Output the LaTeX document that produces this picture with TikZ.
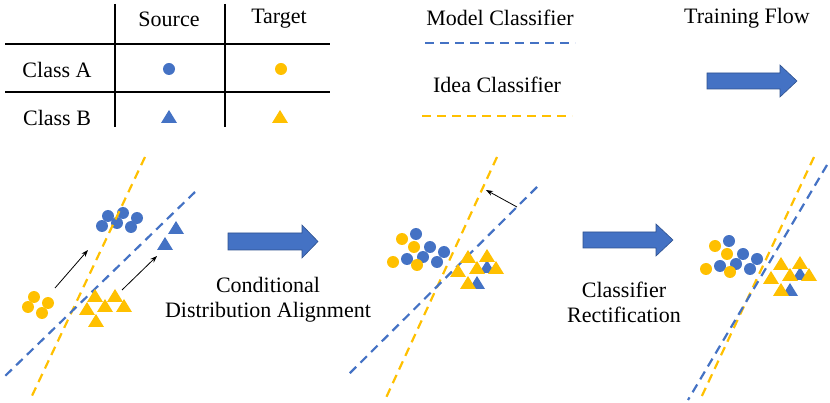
\documentclass[tikz,border=0pt]{standalone}
\usepackage{fontspec}
\setmainfont{Liberation Serif}
\usetikzlibrary{arrows.meta}
\definecolor{cblue}{HTML}{4472C4}
\definecolor{cyel}{HTML}{FFC000}
\definecolor{cbord}{HTML}{2F528F}
\tikzset{
  lbl/.style={font=\fontsize{22}{25}\selectfont, inner sep=0pt, align=center},
  grid/.style={line width=1.8pt, black},
  bdash/.style={cblue, line width=2.2pt, dash pattern=on 9pt off 6pt},
  ydash/.style={cyel, line width=2.2pt, dash pattern=on 9pt off 6pt},
  bigarrow/.style={fill=cblue, draw=cbord, line width=0.6pt},
  thinarrow/.style={black, line width=0.8pt, -{Stealth[length=7pt,width=5pt]}},
  tri/.pic={\fill (-8,6) -- (8,6) -- (0,-7) -- cycle;},
}
\newcommand{\bdot}[1]{\fill[cblue] #1 circle (6);}
\newcommand{\ydot}[1]{\fill[cyel] #1 circle (6);}
\newcommand{\btri}[1]{\path[cblue] #1 pic {tri};}
\newcommand{\ytri}[1]{\path[cyel] #1 pic {tri};}
\begin{document}
\begin{tikzpicture}[x=1pt,y=-1pt]
\useasboundingbox (0,0) rectangle (830,403);
% ---------- table ----------
\draw[grid] (115,4) -- (115,127);
\draw[grid] (225,4) -- (225,127);
\draw[grid] (5,44) -- (330,44);
\draw[grid] (5,92) -- (330,92);
\node[lbl] (src) at (169,19) {Source};
\node[lbl] (tgt) at (279,19) {Target};
\node[lbl] (ca) at (57,70) {Class A};
\node[lbl] (cb) at (57,118) {Class B};
\bdot{(169,69)}
\ydot{(281,69)}
\btri{(169,117)}
\ytri{(280,117)}
% ---------- legend ----------
\node[lbl] (mc) at (500,18) {Model Classifier};
\coordinate (mc1) at (425,43); \coordinate (mc2) at (575,43);
\draw[bdash] (mc1) -- (mc2);
\node[lbl] (ic) at (497,85) {Idea Classifier};
\coordinate (ic1) at (422,116); \coordinate (ic2) at (572,116);
\draw[ydash] (ic1) -- (ic2);
\node[lbl] (tf) at (747,18) {Training Flow};
\draw[bigarrow] (707,73) -- (780,73) -- (780,65) -- (797,81) -- (780,97) -- (780,89) -- (707,89) -- cycle;
% ---------- panel 1 ----------
\coordinate (y1a) at (145,157); \coordinate (y1b) at (30,400);
\coordinate (b1a) at (195,192); \coordinate (b1b) at (3,378);
\bdot{(102,226)} \bdot{(108,216)} \bdot{(117,223)} \bdot{(123,213)} \bdot{(131,227)} \bdot{(137,218)}
\draw[ydash] (y1a) -- (y1b);
\draw[bdash] (b1a) -- (b1b);
\btri{(176,228)} \btri{(165,244)}
\ydot{(34,297)} \ydot{(28,307)} \ydot{(48,303)} \ydot{(42,313)}
\ytri{(95,296)} \ytri{(115,296)} \ytri{(87,309)} \ytri{(105,306)} \ytri{(124,306)} \ytri{(96,321)}
\coordinate (a1s) at (55,288); \coordinate (a1e) at (88,250);
\coordinate (a2s) at (122,290); \coordinate (a2e) at (157,256);
\draw[thinarrow] (a1s) -- (a1e);
\draw[thinarrow] (a2s) -- (a2e);
% ---------- arrow 1 ----------
\draw[bigarrow] (228,233) -- (302,233) -- (302,225) -- (318,241.5) -- (302,258) -- (302,250) -- (228,250) -- cycle;
\node[lbl] (cda) at (268,300) {Conditional\\Distribution Alignment};
% ---------- panel 2 ----------
\coordinate (y2a) at (497,157); \coordinate (y2b) at (385,400);
\coordinate (b2a) at (537,187); \coordinate (b2b) at (347,376);
\draw[ydash] (y2a) -- (y2b);
\draw[bdash] (b2a) -- (b2b);
\coordinate (a3s) at (517,207); \coordinate (a3e) at (486,190);
\draw[thinarrow] (a3s) -- (a3e);
\begin{scope}
\ydot{(402,239)} \bdot{(416,234)} \bdot{(430,247)} \bdot{(444,252)} \ydot{(414,247)}
\bdot{(407,259)} \bdot{(423,257)} \bdot{(437,262)} \ydot{(393,262)} \ydot{(417,265)}
\btri{(487,267)}
\ytri{(468,257)} \ytri{(487,256)} \ytri{(477,268)} \ytri{(496,268)} \ytri{(458,271)}
\btri{(477,283)} \ytri{(468,283)}
\end{scope}
% ---------- arrow 2 ----------
\draw[bigarrow] (583,232) -- (656,232) -- (656,224) -- (673,240) -- (656,256) -- (656,248) -- (583,248) -- cycle;
\node[lbl] (cr) at (624,302) {Classifier\\Rectification};
% ---------- panel 3 ----------
\coordinate (y3a) at (814,157); \coordinate (y3b) at (700,400);
\coordinate (b3a) at (827,165); \coordinate (b3b) at (688,400);
\draw[ydash] (y3a) -- (y3b);
\draw[bdash] (b3a) -- (b3b);
\begin{scope}[shift={(313,7)}]
\ydot{(402,239)} \bdot{(416,234)} \bdot{(430,247)} \bdot{(444,252)} \ydot{(414,247)}
\bdot{(407,259)} \bdot{(423,257)} \bdot{(437,262)} \ydot{(393,262)} \ydot{(417,265)}
\btri{(487,267)}
\ytri{(468,257)} \ytri{(487,256)} \ytri{(477,268)} \ytri{(496,268)} \ytri{(458,271)}
\btri{(477,283)} \ytri{(468,283)}
\end{scope}
\end{tikzpicture}
\end{document}
